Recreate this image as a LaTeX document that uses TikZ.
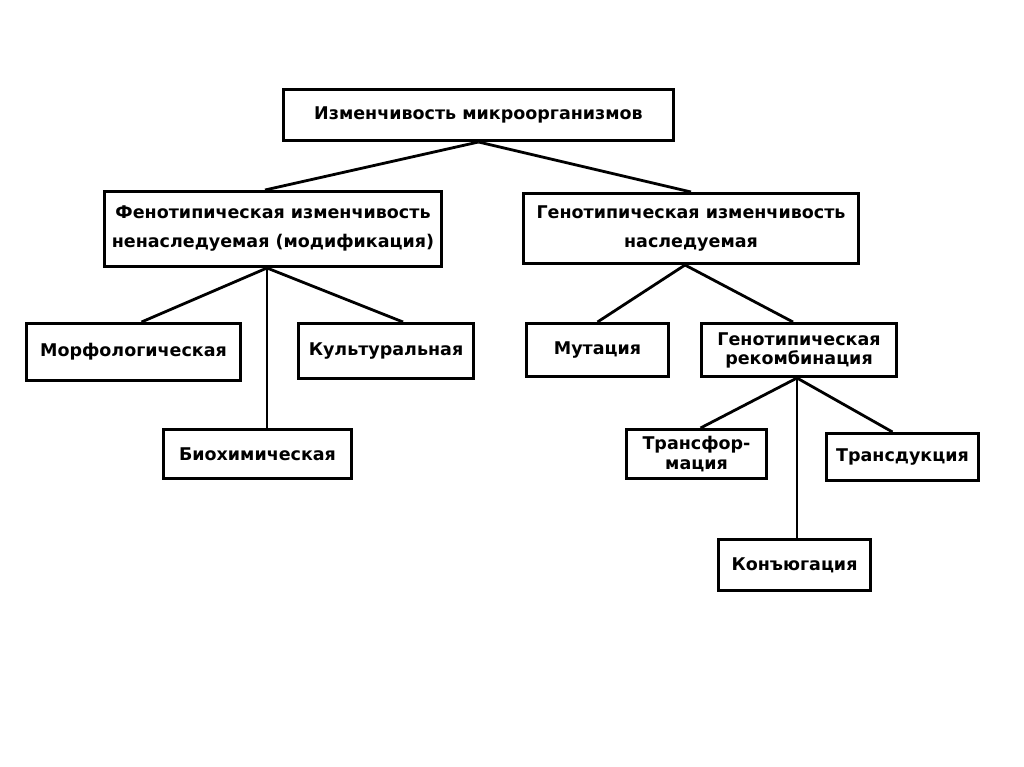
\documentclass[tikz,border=0pt]{standalone}
\usepackage{fontspec}
\setmainfont{DejaVu Sans}
\begin{document}
\begin{tikzpicture}[x=1pt,y=-1pt]
    \tikzstyle{box}=[draw=black, line width=3pt, inner sep=0pt, align=center, font=\bfseries\fontsize{17.5}{29}\selectfont]
    \tikzstyle{link}=[black, line width=2.8pt]
    \useasboundingbox (0,0) rectangle (1024,767);
    \node [box, minimum width=390, minimum height=51] (izm) at (478.5,115) {Изменчивость микроорганизмов};
    \node [box, minimum width=337, minimum height=75] (fen) at (273,229) {Фенотипическая изменчивость\\ненаследуемая (модификация)};
    \node [box, minimum width=335, minimum height=70] (gen) at (691,228.5) {Генотипическая изменчивость\\наследуемая};
    \node [box, minimum width=214, minimum height=57] (morf) at (133.5,352) {Морфологическая};
    \node [box, minimum width=175, minimum height=55] (kult) at (386,351) {Культуральная};
    \node [box, minimum width=188, minimum height=49] (bio) at (257.5,454) {Биохимическая};
    \node [box, minimum width=142, minimum height=53] (mut) at (597.5,350) {Мутация};
    \node [box, minimum width=195, minimum height=53, font=\bfseries\fontsize{17.5}{19}\selectfont] (rek) at (799,350) {Генотипическая\\рекомбинация};
    \node [box, minimum width=140, minimum height=49, font=\bfseries\fontsize{17.5}{20}\selectfont] (transf) at (696.5,454) {Трансфор-\\мация};
    \node [box, minimum width=152, minimum height=47] (transd) at (902.5,457) {Трансдукция};
    \node [box, minimum width=152, minimum height=51] (konj) at (794.5,565) {Конъюгация};
    \draw [link] (izm.south) -- ([xshift=-8]fen.north);
    \draw [link] (izm.south) -- (gen.north);
    \coordinate (fenj) at ([xshift=-6]fen.south);
    \draw [link] (fenj) -- ([xshift=8]morf.north);
    \draw [link] (fenj) -- ([xshift=17]kult.north);
    \draw [link] (fenj) -- (fenj |- bio.north);
    \coordinate (genj) at ([xshift=-6]gen.south);
    \draw [link] (genj) -- (mut.north);
    \draw [link] (genj) -- ([xshift=-6]rek.north);
    \coordinate (rekj) at ([xshift=-2]rek.south);
    \draw [link] (rekj) -- ([xshift=4]transf.north);
    \draw [link] (rekj) -- ([xshift=-10]transd.north);
    \draw [link] (rekj) -- (rekj |- konj.north);
\end{tikzpicture}
\end{document}
